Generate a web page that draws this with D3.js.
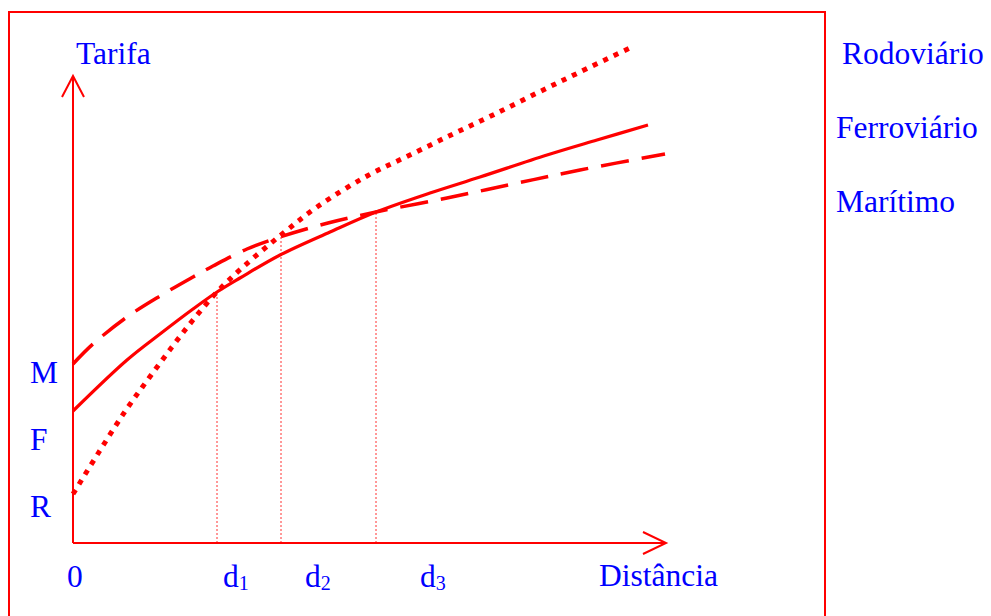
<!DOCTYPE html>
<html>
<head>
<meta charset="utf-8">
<script src="https://cdn.jsdelivr.net/npm/d3@7"></script>
<style>
  html, body { margin: 0; padding: 0; background: #fff; }
  svg { display: block; }
  text { font-family: "Liberation Serif", "Times New Roman", serif; fill: #0000ff; }
</style>
</head>
<body>
<svg id="chart" width="991" height="616"></svg>
<script>
// ---- data (distance units, tariff units) ----
const seriesNames = ["Rodoviário", "Ferroviário", "Marítimo"];

const rodoviario = [
  [0,49],[26,91],[53,133],[76,165],[99,196],[120,223],[144,251],[170,276],
  [208,308],[244,336],[294,367],[337,388],[380,409],[420,428],[464,450],[507,471],[559,496]
];
const ferroviario = [
  [0,132],[54,183],[87,209],[120,234],[144,251],[167,265],[207,288],[257,311],
  [303,331],[357,350],[407,366],[474,388],[524,403],[575,418]
];
const maritimo = [
  [0,179],[20,199],[54,226],[87,247],[120,266],[140,277],[174,294],[207,306],
  [255,320],[303,331],[374,345],[440,359],[507,373],[592,389]
];

// crossing distances d1, d2, d3 and the tariff at each crossing
const crossX = [144, 208, 303];
const crossY = [251, 308, 331];

const xTickLabels = ["0", "d", "d", "d"];
const xTickSubs = ["", "1", "2", "3"];
const xTickValues = [0, 150, 232, 347];

const yTickLabels = ["M", "F", "R"];
const yTickValues = [171, 104, 37];

const axisMax = [593, 467];

// ---- scales ----
const svg = d3.select("#chart");
const x = d3.scaleLinear().domain([0, 600]).range([73, 673]);
const y = d3.scaleLinear().domain([0, 470]).range([543, 73]);

const red = "#ff0000";

// frame
svg.append("rect")
  .attr("x", 9).attr("y", 12).attr("width", 816).attr("height", 640)
  .attr("fill", "none").attr("stroke", red).attr("stroke-width", 2);

// crossing guide lines
svg.selectAll("line.guide").data(crossX).enter().append("line")
  .attr("class", "guide")
  .attr("x1", d => x(d)).attr("x2", d => x(d))
  .attr("y1", y(0)).attr("y2", (d, i) => y(crossY[i]))
  .attr("stroke", "#ff3030").attr("stroke-width", 1)
  .attr("stroke-dasharray", "2,2");

// axes
const x0 = x(0), y0 = y(0), xe = x(axisMax[0]), ye = y(axisMax[1]);
svg.append("line").attr("x1", x0).attr("y1", y0).attr("x2", xe).attr("y2", y0)
  .attr("stroke", red).attr("stroke-width", 2);
svg.append("line").attr("x1", x0).attr("y1", y0).attr("x2", x0).attr("y2", ye)
  .attr("stroke", red).attr("stroke-width", 2);
svg.append("path")
  .attr("d", `M${xe - 23},${y0 - 11} L${xe},${y0} L${xe - 23},${y0 + 11}`)
  .attr("fill", "none").attr("stroke", red).attr("stroke-width", 2);
svg.append("path")
  .attr("d", `M${x0 - 11},${ye + 21} L${x0},${ye} L${x0 + 11},${ye + 21}`)
  .attr("fill", "none").attr("stroke", red).attr("stroke-width", 2);

// curves
const line = d3.line().x(d => x(d[0])).y(d => y(d[1])).curve(d3.curveCatmullRom.alpha(0.5));

svg.append("path").datum(maritimo).attr("d", line)
  .attr("fill", "none").attr("stroke", red).attr("stroke-width", 3.5)
  .attr("stroke-dasharray", "28,13");
svg.append("path").datum(ferroviario).attr("d", line)
  .attr("fill", "none").attr("stroke", red).attr("stroke-width", 3.2);
svg.append("path").datum(rodoviario).attr("d", line)
  .attr("fill", "none").attr("stroke", red).attr("stroke-width", 5)
  .attr("stroke-dasharray", "5,6.5");

// texts
const fs = 31.5;
svg.append("text").attr("x", 76).attr("y", 64).attr("font-size", fs).text("Tarifa");
svg.append("text").attr("x", 599).attr("y", 586).attr("font-size", fs).text("Distância");

// y tick labels
svg.selectAll("text.yt").data(yTickValues).enter().append("text")
  .attr("class", "yt")
  .attr("x", 30).attr("y", d => y(d)).attr("dy", "0.34em")
  .attr("font-size", fs)
  .text((d, i) => yTickLabels[i]);

// x tick labels
xTickValues.forEach((v, i) => {
  const t = svg.append("text")
    .attr("x", x(v) + (i === 0 ? -6 : 0)).attr("y", 587).attr("font-size", fs)
    .text(xTickLabels[i]);
  if (xTickSubs[i]) {
    t.append("tspan").attr("font-size", 20).attr("dy", 3).text(xTickSubs[i]);
  }
});

// legend labels
const legendX = [842, 836, 836];
const legendY = [64, 138, 212];
svg.selectAll("text.leg").data(seriesNames).enter().append("text")
  .attr("class", "leg")
  .attr("x", (d, i) => legendX[i]).attr("y", (d, i) => legendY[i])
  .attr("font-size", fs)
  .text(d => d);
</script>
</body>
</html>
